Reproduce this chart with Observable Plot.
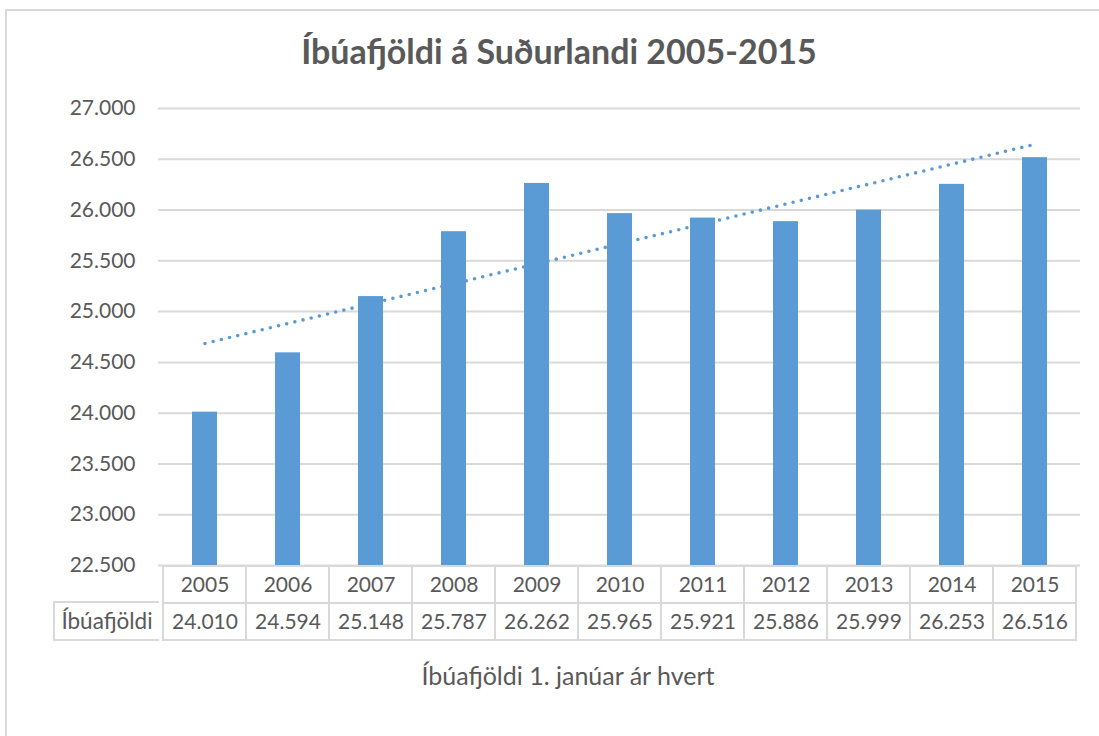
<!DOCTYPE html>
<html>
<head>
<meta charset="utf-8">
<script src="https://cdn.jsdelivr.net/npm/d3@7"></script>
<script src="https://cdn.jsdelivr.net/npm/@observablehq/plot@0.6"></script>
<style>
  html, body { margin: 0; padding: 0; background: #fff; }
  #wrap { position: relative; width: 1099px; height: 736px; overflow: hidden; font-family: Lato, "Open Sans", sans-serif; color: #595959; }
  #box { position: absolute; left: 5px; top: 9px; width: 1110px; height: 760px; border: 2px solid #d9d9d9; box-sizing: border-box; }
  #title { position: absolute; left: 0; width: 1118px; top: 29px; line-height: 44px; text-align: center; font-size: 34px; font-weight: bold; }
  #main { position: absolute; left: 0; top: 90px; }
  #table { position: absolute; left: 0; top: 565px; }
  #rowlabel { position: absolute; left: 53px; top: 601px; width: 106px; height: 40px; border: 2px solid #d9d9d9; border-right: none; box-sizing: border-box; font-size: 22.5px; line-height: 36px; text-align: center; }
  #caption { position: absolute; left: 0; width: 1136px; top: 660px; line-height: 30px; text-align: center; font-size: 25px; }
  svg text { fill: #595959; }
</style>
</head>
<body>
<div id="wrap">
  <div id="box"></div>
  <div id="title">Íbúafjöldi á Suðurlandi 2005-2015</div>
  <div id="main"></div>
  <div id="table"></div>
  <div id="rowlabel">Íbúafjöldi</div>
  <div id="caption">Íbúafjöldi 1. janúar ár hvert</div>
</div>
<script>
const years = ["2005","2006","2007","2008","2009","2010","2011","2012","2013","2014","2015"];
const population = [24010,24594,25148,25787,26262,25965,25921,25886,25999,26253,26516];
const yTicks = [22500,23000,23500,24000,24500,25000,25500,26000,26500,27000];

const data = years.map((year, i) => ({year, value: population[i]}));

// linear trend (least squares over index)
const n = population.length;
const mx = (n - 1) / 2;
const my = d3.mean(population);
let sxy = 0, sxx = 0;
population.forEach((v, i) => { sxy += (i - mx) * (v - my); sxx += (i - mx) ** 2; });
const slope = sxy / sxx;
const trend = years.map((year, i) => ({year, value: my + slope * (i - mx)}));

const fmt = d3.formatLocale({decimal: ",", thousands: ".", grouping: [3]}).format(",d");

const W = 1099, ML = 158, MR = 19;

const main = Plot.plot({
  width: W, height: 487,
  marginLeft: ML, marginRight: MR, marginTop: 18, marginBottom: 12,
  style: {fontFamily: "Lato, 'Open Sans', sans-serif", fontSize: "21px", color: "#595959", overflow: "visible"},
  x: {domain: years, type: "band", padding: 0, axis: null},
  y: {domain: [22500, 27000], ticks: yTicks, tickFormat: fmt, tickSize: 0, tickPadding: 23, label: null},
  marks: [
    Plot.gridY(yTicks, {stroke: "#d9d9d9", strokeOpacity: 1, strokeWidth: 2}),
    Plot.barY(data, {x: "year", y1: 22500, y2: "value", fill: "#5b9bd5", insetLeft: 29, insetRight: 29}),
    Plot.line(trend, {x: "year", y: "value", stroke: "#5b9bd5", strokeWidth: 3.6, strokeDasharray: "0 8.4", strokeLinecap: "round"})
  ]
});
document.getElementById("main").appendChild(main);

const rows = [];
years.forEach((year, i) => {
  rows.push({year, row: "h", label: year});
  rows.push({year, row: "v", label: fmt(population[i])});
});

const table = Plot.plot({
  width: W, height: 76,
  marginLeft: ML, marginRight: MR, marginTop: 1, marginBottom: 1,
  style: {fontFamily: "Lato, 'Open Sans', sans-serif", fontSize: "21px", color: "#595959"},
  x: {domain: years, type: "band", padding: 0, axis: null},
  y: {domain: ["h", "v"], type: "band", padding: 0, axis: null},
  marks: [
    Plot.cell(rows, {x: "year", y: "row", fill: "none", stroke: "#d9d9d9", strokeWidth: 2}),
    Plot.text(rows, {x: "year", y: "row", text: "label", fill: "#595959", fontSize: 21})
  ]
});
document.getElementById("table").appendChild(table);
</script>
</body>
</html>
